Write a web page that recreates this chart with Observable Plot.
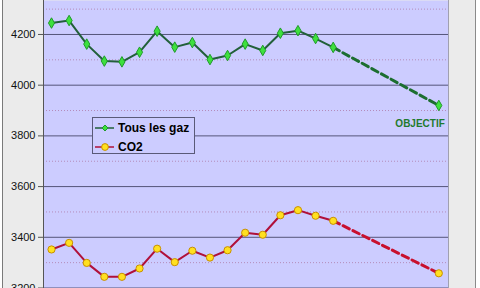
<!DOCTYPE html>
<html><head><meta charset="utf-8">
<script src="https://cdn.jsdelivr.net/npm/d3@7"></script>
<script src="https://cdn.jsdelivr.net/npm/@observablehq/plot@0.6"></script>
<style>
html,body{margin:0;padding:0;background:#fff;}
#wrap{position:relative;width:480px;height:288px;overflow:hidden;background:#fff;}
#bg{position:absolute;left:2px;top:-2px;width:472px;height:300px;border-left:1px solid #7a7a7a;border-right:1px solid #8a8a8a;background:#ebebeb;}
#chart{position:absolute;left:0;top:0;}
#legend{position:absolute;left:92px;top:117px;width:101px;height:35px;border:1px solid #5a5a78;background:#ccccff;font:bold 12px Arial,"Liberation Sans",sans-serif;color:#000;}
#legend .row{position:absolute;left:2px;height:14px;display:flex;align-items:center;white-space:nowrap;}
#legend svg{margin-right:4px;flex:none;}
</style>
</head><body>
<div id="wrap"><div id="bg"></div><div id="chart"></div><div id="legend"></div></div>
<script>
const years = [1990,1991,1992,1993,1994,1995,1996,1997,1998,1999,2000,2001,2002,2003,2004,2005,2006];
const tousLesGaz = [4245,4255,4162,4095,4092,4130,4213,4150,4168,4101,4117,4162,4137,4205,4215,4184,4149];
const co2 = [3352,3378,3299,3244,3244,3277,3355,3302,3347,3320,3349,3418,3410,3487,3507,3485,3465];
const targetYear = 2012;
const tousLesGazTarget = 3920;
const co2Target = 3258;
const majorTicks = [3200,3400,3600,3800,4000,4200];
const minorTicks = [3300,3500,3700,3900,4100,4300];
const seriesNames = ["Tous les gaz","CO2"];
const targetLabel = "OBJECTIF";

const green = years.map((x,i)=>({x, y: tousLesGaz[i]}));
const red = years.map((x,i)=>({x, y: co2[i]}));
const last = years.length-1;
const greenDash = [{x: years[last], y: tousLesGaz[last]}, {x: targetYear, y: tousLesGazTarget}];
const redDash = [{x: years[last], y: co2[last]}, {x: targetYear, y: co2Target}];

const chart = Plot.plot({
  width: 480, height: 300,
  marginLeft: 43, marginRight: 32, marginTop: 0, marginBottom: 12.5,
  style: {fontFamily: "Arial, 'Liberation Sans', sans-serif", fontSize: "11px", color: "#111", background: "transparent"},
  x: {domain: [1989.545, 2012.55], axis: null},
  y: {domain: [3200, 4334], axis: null},
  marks: [
    Plot.frame({fill: "#ccccff", stroke: null}),
    Plot.ruleY(minorTicks, {stroke: "#b48cba", strokeDasharray: "1,2", strokeWidth: 1}),
    Plot.ruleY(majorTicks, {stroke: "#55557a", strokeWidth: 1}),
    Plot.frame({anchor: "right", stroke: "#a0a0b0"}),
    Plot.frame({anchor: "left", stroke: "#555"}),
    Plot.axisY({ticks: majorTicks, tickFormat: d => String(d), tickSize: 5, tickPadding: 3, stroke: "#555", fill: "#111", label: null}),
    Plot.line(greenDash, {x: "x", y: "y", stroke: "#1c6e30", strokeWidth: 3, strokeDasharray: "7,4"}),
    Plot.line(redDash, {x: "x", y: "y", stroke: "#c8102e", strokeWidth: 3, strokeDasharray: "7,4"}),
    Plot.line(green, {x: "x", y: "y", stroke: "#22603a", strokeWidth: 2}),
    Plot.line(red, {x: "x", y: "y", stroke: "#b0103a", strokeWidth: 2}),
    Plot.dot(green.concat([greenDash[1]]), {x: "x", y: "y", symbol: "diamond", r: 3.2, fill: "#3ee03e", stroke: "#1f9a2a", strokeWidth: 1}),
    Plot.dot(red.concat([redDash[1]]), {x: "x", y: "y", r: 3.6, fill: "#ffe020", stroke: "#c89000", strokeWidth: 1}),
    Plot.text([greenDash[1]], {x: "x", y: "y", text: () => targetLabel, dx: 6, dy: 18, textAnchor: "end", fill: "#1f7a2e", fontWeight: "bold", fontSize: 10})
  ]
});
document.getElementById("chart").appendChild(chart);

const legend = document.getElementById("legend");
const styles = [
  {stroke: "#22603a", fill: "#3ee03e", edge: "#1f9a2a", shape: "diamond"},
  {stroke: "#b0103a", fill: "#ffe020", edge: "#c89000", shape: "circle"}
];
seriesNames.forEach((name, i) => {
  const row = document.createElement("div");
  row.className = "row";
  row.style.top = (i === 0 ? 3 : 22) + "px";
  const s = styles[i];
  const marker = s.shape === "diamond"
    ? `<path d="M10,3 L13,6 L10,9 L7,6 Z" fill="${s.fill}" stroke="${s.edge}"/>`
    : `<circle cx="10" cy="6" r="3.4" fill="${s.fill}" stroke="${s.edge}"/>`;
  row.innerHTML = `<svg width="19" height="12"><line x1="0" x2="19" y1="6" y2="6" stroke="${s.stroke}" stroke-width="1.5"/>${marker}</svg><span>${name}</span>`;
  legend.appendChild(row);
});
</script>
</body></html>
